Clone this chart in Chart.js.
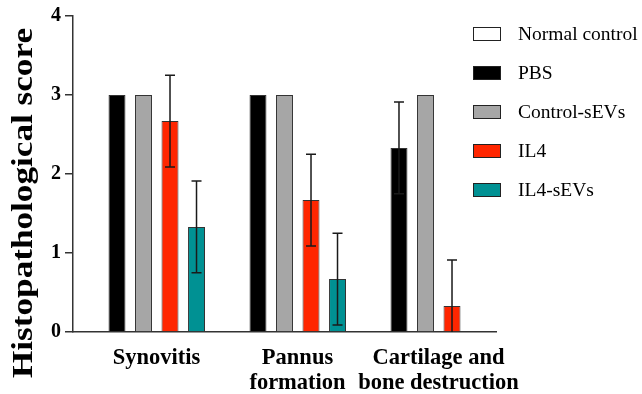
<!DOCTYPE html>
<html>
<head>
<meta charset="utf-8">
<script src="https://cdn.jsdelivr.net/npm/chart.js@4"></script>
<style>
  html, body { margin: 0; padding: 0; background: #fff; }
  #wrap { width: 642px; height: 394px; }
</style>
</head>
<body>
<div id="wrap"><canvas id="chart" width="642" height="394"></canvas></div>
<script>
// categories and group values
const categories = [['Synovitis'], ['Pannus', 'formation'], ['Cartilage and', 'bone destruction']];
const seriesNames = ['Normal control', 'PBS', 'Control-sEVs', 'IL4', 'IL4-sEVs'];
const normalControl = [0, 0, 0];
const pbs = [3, 3, 2.33];
const controlSEVs = [3, 3, 3];
const il4 = [2.67, 1.67, 0.33];
const il4SEVs = [1.33, 0.67, 0];
// error bar half-widths (SEM)
const normalControlErr = [0, 0, 0];
const pbsErr = [0, 0, 0.58];
const controlSEVsErr = [0, 0, 0];
const il4Err = [0.58, 0.58, 0.58];
const il4SEVsErr = [0.58, 0.58, 0];
const yTicks = [0, 1, 2, 3, 4];
const yTitle = 'Histopathological score';

const colors = ['#ffffff', '#000000', '#a6a6a6', '#ff2600', '#009193'];
const serif = 'Liberation Serif';

const errorBars = {
    id: 'errorBars',
    afterDatasetsDraw(chart) {
        const ctx = chart.ctx;
        const y = chart.scales.y;
        const area = chart.chartArea;
        ctx.save();
        ctx.beginPath();
        ctx.rect(area.left, area.top - 20, area.right - area.left, area.bottom - area.top + 20);
        ctx.clip();
        ctx.strokeStyle = '#1a1a1a';
        ctx.lineWidth = 1.5;
        chart.data.datasets.forEach((ds, i) => {
            const meta = chart.getDatasetMeta(i);
            meta.data.forEach((bar, j) => {
                const e = ds.err[j];
                if (!e) return;
                const v = ds.data[j];
                const top = y.getPixelForValue(v + e);
                const bot = y.getPixelForValue(Math.max(v - e, 0));
                ctx.beginPath();
                ctx.moveTo(bar.x, top);
                ctx.lineTo(bar.x, bot);
                ctx.moveTo(bar.x - 5, top);
                ctx.lineTo(bar.x + 5, top);
                if (v - e > 0) {
                    ctx.moveTo(bar.x - 5, bot);
                    ctx.lineTo(bar.x + 5, bot);
                }
                ctx.stroke();
            });
        });
        ctx.restore();
    }
};

// legend sits partly over the plot's right end, so it is drawn by hand
const sideLegend = {
    id: 'sideLegend',
    afterDraw(chart) {
        const ctx = chart.ctx;
        const x0 = chart.chartArea.right - 23;
        const y0 = chart.chartArea.top + 18;
        ctx.save();
        ctx.font = '19.5px ' + serif;
        ctx.textBaseline = 'middle';
        ctx.textAlign = 'left';
        chart.data.datasets.forEach((ds, i) => {
            const yc = y0 + i * 39;
            ctx.fillStyle = ds.backgroundColor;
            ctx.fillRect(x0, yc - 7, 28, 14);
            ctx.strokeStyle = '#222';
            ctx.lineWidth = 1;
            ctx.strokeRect(x0 + 0.5, yc - 6.5, 27, 13);
            ctx.fillStyle = '#000';
            ctx.fillText(ds.label, x0 + 45, yc + 1);
        });
        ctx.restore();
    }
};

// y title, stretched a little along its length like the original
const yAxisTitle = {
    id: 'yAxisTitle',
    afterDraw(chart) {
        const ctx = chart.ctx;
        ctx.save();
        ctx.font = 'bold 30px ' + serif;
        const w = ctx.measureText(yTitle).width;
        ctx.translate(32, 203);
        ctx.rotate(-Math.PI / 2);
        ctx.scale(350 / w, 1);
        ctx.fillStyle = '#000';
        ctx.textAlign = 'center';
        ctx.textBaseline = 'alphabetic';
        ctx.fillText(yTitle, 0, 0);
        ctx.restore();
    }
};

const allValues = [normalControl, pbs, controlSEVs, il4, il4SEVs];
const allErr = [normalControlErr, pbsErr, controlSEVsErr, il4Err, il4SEVsErr];

new Chart(document.getElementById('chart'), {
    type: 'bar',
    data: {
        labels: categories,
        datasets: seriesNames.map((name, i) => ({
            label: name,
            data: allValues[i],
            err: allErr[i],
            backgroundColor: colors[i],
            borderColor: '#333',
            borderWidth: 1,
            categoryPercentage: 0.94,
            barPercentage: 0.64
        }))
    },
    options: {
        responsive: false,
        animation: false,
        layout: { padding: { top: 15, right: 146, left: 0, bottom: 0 } },
        plugins: {
            legend: { display: false },
            tooltip: { enabled: false }
        },
        scales: {
            x: {
                grid: { display: false },
                border: { color: '#333', width: 1.5 },
                ticks: {
                    color: '#000',
                    font: { family: serif, size: 22.5, weight: 'bold', lineHeight: 1.1 },
                    maxRotation: 0,
                    autoSkip: false,
                    labelOffset: 13,
                    padding: 6
                },
                afterFit(scale) { scale.height = 62; }
            },
            y: {
                min: 0,
                max: 4,
                afterBuildTicks(scale) { scale.ticks = yTicks.map(v => ({ value: v })); },
                grid: { drawOnChartArea: false, color: '#333', lineWidth: 1.5, tickLength: 8 },
                border: { color: '#333', width: 1.5 },
                ticks: {
                    color: '#000',
                    font: { family: serif, size: 20, weight: 'bold' },
                    padding: 4
                },
                afterFit(scale) { scale.width = 73; }
            }
        }
    },
    plugins: [errorBars, sideLegend, yAxisTitle]
});
</script>
</body>
</html>
